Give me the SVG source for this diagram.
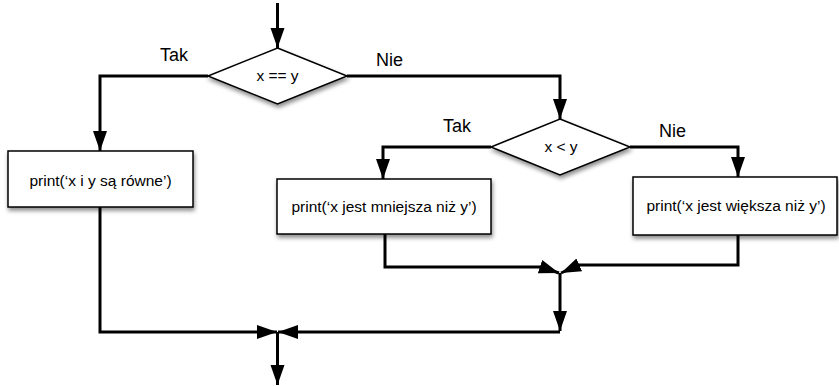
<svg xmlns="http://www.w3.org/2000/svg" width="839" height="386" viewBox="0 0 839 386">
<defs>
<style>
.node{fill:#fff;stroke:#000;stroke-width:1.5;filter:url(#sh)}
.t{font-family:"Liberation Sans",Arial,sans-serif;font-size:15.5px;fill:#000;text-anchor:middle}
.lbl{font-family:"Liberation Sans",Arial,sans-serif;font-size:18px;fill:#000}
.c{fill:none;stroke:#000;stroke-width:3;stroke-linejoin:miter;marker-end:url(#ah)}
</style>
<filter id="sh" x="-10%" y="-20%" width="130%" height="160%">
<feDropShadow dx="1" dy="3" stdDeviation="2" flood-color="#000" flood-opacity="0.45"/>
</filter>
<marker id="ah" markerUnits="userSpaceOnUse" markerWidth="21" markerHeight="15" refX="20" refY="7" orient="auto">
<path d="M0,0 L20,7 L0,14 z" fill="#000"/>
</marker>
</defs>
<rect width="839" height="386" fill="#fff"/>
<g id="connectors">
<path class="c" d="M277.5,3 V48"/>
<path class="c" d="M208,76 H100 V151"/>
<path class="c" d="M347,76 H560 V119"/>
<path class="c" d="M491,147 H383 V179"/>
<path class="c" d="M630,147 H738 V177"/>
<path class="c" d="M385,234 V267 H541 L559,273"/>
<path class="c" d="M738,235 V265 H579 L561,273"/>
<path class="c" d="M560,273 V331"/>
<path class="c" d="M100,207 V332 H277"/>
<path class="c" d="M560,332 H278"/>
<path class="c" d="M277.5,332 V385"/>
</g>
<g id="d1">
<polygon class="node" points="277.5,48 347,76 277.5,104 208,76"/>
<text class="t" x="277.5" y="81">x == y</text>
</g>
<g id="d2">
<polygon class="node" points="560,119 630,147 560,175 491,147"/>
<text class="t" x="561" y="152">x &lt; y</text>
</g>
<g id="b1">
<rect class="node" x="8" y="151" width="185" height="56"/>
<text class="t" x="100.5" y="186">print(‘x i y są równe’)</text>
</g>
<g id="b2">
<rect class="node" x="277" y="179" width="214" height="55"/>
<text class="t" x="384" y="212">print(‘x jest mniejsza niż y’)</text>
</g>
<g id="b3">
<rect class="node" x="633" y="177" width="204" height="58"/>
<text class="t" x="736" y="211">print(‘x jest większa niż y’)</text>
</g>
<g id="labels">
<text class="lbl" x="160" y="61">Tak</text>
<text class="lbl" x="376" y="66">Nie</text>
<text class="lbl" x="443" y="132">Tak</text>
<text class="lbl" x="659" y="137">Nie</text>
</g>
</svg>
